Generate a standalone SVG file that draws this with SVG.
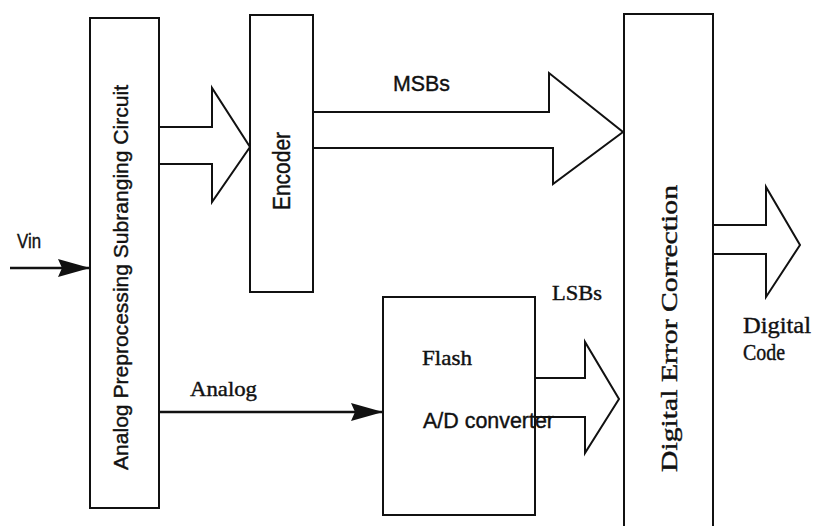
<svg xmlns="http://www.w3.org/2000/svg" width="813" height="526" viewBox="0 0 813 526">
<defs>
<style>
.box{fill:#fff;stroke:#111;stroke-width:2}
.bus{fill:#fff;stroke:#111;stroke-width:2;stroke-linejoin:miter}
.wire{stroke:#111;stroke-width:2.5;fill:none}
.sans{font-family:"Liberation Sans",Arial,sans-serif;fill:#111;stroke:#111;stroke-width:0.4}
.serif{font-family:"Liberation Serif","Times New Roman",serif;fill:#111;stroke:#111;stroke-width:0.4}
</style>
<marker id="ah" markerWidth="32" markerHeight="18" refX="31" refY="9" orient="auto" markerUnits="userSpaceOnUse">
<path d="M0,0 L32,9 L0,18 L4,9 Z" fill="#111"/>
</marker>
</defs>
<rect width="813" height="526" fill="#fff"/>

<g id="connectors">
<line class="wire" x1="10" y1="268" x2="89" y2="268" marker-end="url(#ah)"/>
<line class="wire" x1="159" y1="412" x2="382" y2="412" marker-end="url(#ah)"/>
<path class="bus" d="M159,127 H212 V88 L250,147 L212,202 V164 H159"/>
<path class="bus" d="M313,112 H549 V73 L623,132 L553,184 V148 H313"/>
<path class="bus" d="M535,378 H585 V342 L619,399 L585,453 V417 H535"/>
<path class="bus" d="M713,225 H766 V187 L800,245 L766,297 V254 H713"/>
<text class="sans" x="17" y="248" font-size="21" textLength="24" lengthAdjust="spacingAndGlyphs">Vin</text>
<text class="serif" x="190" y="396" font-size="21" textLength="67" lengthAdjust="spacingAndGlyphs">Analog</text>
<text class="sans" x="393" y="91" font-size="22" textLength="57" lengthAdjust="spacingAndGlyphs">MSBs</text>
<text class="serif" x="552" y="300" font-size="20" textLength="50" lengthAdjust="spacingAndGlyphs">LSBs</text>
<text class="serif" x="743" y="333" font-size="23" textLength="68" lengthAdjust="spacingAndGlyphs">Digital</text>
<text class="serif" x="743" y="360" font-size="23" textLength="42" lengthAdjust="spacingAndGlyphs">Code</text>
</g>

<g id="preprocessing">
<rect class="box" x="90" y="18" width="69" height="490"/>
<text class="sans" transform="translate(128,277.5) rotate(-90)" text-anchor="middle" font-size="20" textLength="385" lengthAdjust="spacingAndGlyphs">Analog Preprocessing Subranging Circuit</text>
</g>

<g id="encoder">
<rect class="box" x="250" y="15" width="63" height="277"/>
<text class="sans" transform="translate(290,171) rotate(-90)" text-anchor="middle" font-size="23" textLength="78" lengthAdjust="spacingAndGlyphs">Encoder</text>
</g>

<g id="flash">
<rect class="box" x="383" y="297" width="152" height="218"/>
<text class="serif" x="422" y="365" font-size="22" textLength="50" lengthAdjust="spacingAndGlyphs">Flash</text>
<text class="sans" x="423" y="428" font-size="22" textLength="131" lengthAdjust="spacingAndGlyphs">A/D converter</text>
</g>

<g id="error-correction">
<path class="box" d="M624,530 V14 H713 V530"/>
<text class="serif" transform="translate(677,328.5) rotate(-90)" text-anchor="middle" font-size="24" textLength="287" lengthAdjust="spacingAndGlyphs">Digital Error Correction</text>
</g>
</svg>
